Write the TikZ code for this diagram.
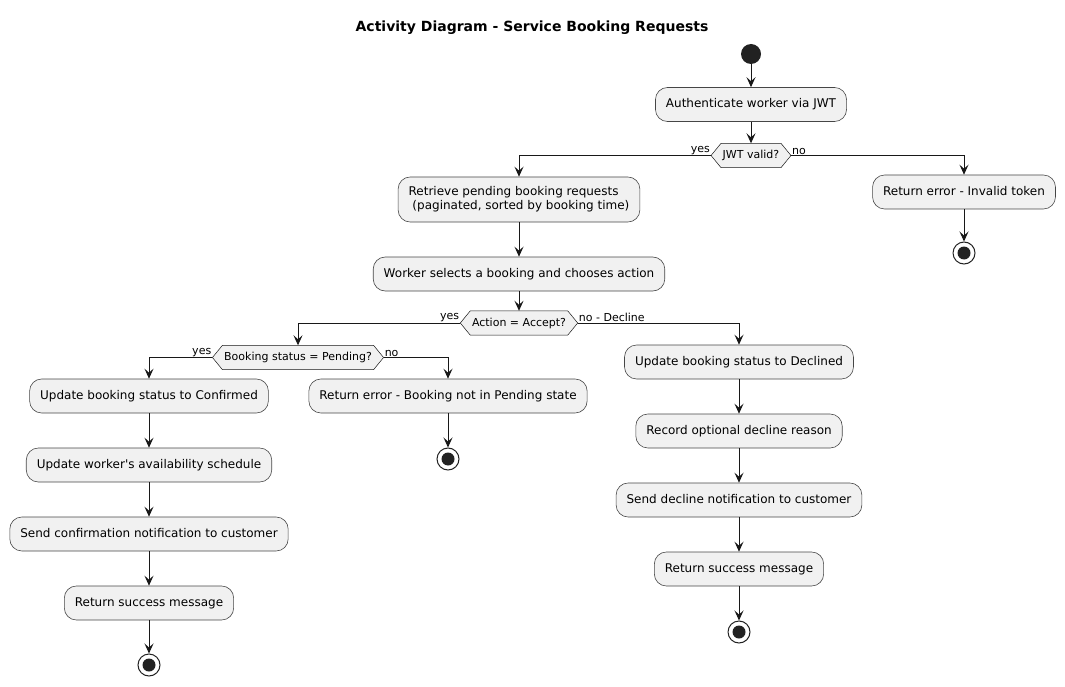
\documentclass[tikz,border=0pt]{standalone}
\usepackage{fontspec}
\setmainfont{DejaVu Sans}
\usetikzlibrary{arrows.meta,backgrounds}
\definecolor{boxfill}{HTML}{F1F1F1}
\definecolor{lineclr}{HTML}{181818}
\definecolor{dotclr}{HTML}{222222}
\newcommand\hexdraw[1]{\draw[draw=lineclr, line width=0.5pt, fill=boxfill] (#1.west) -- ([xshift=10pt]#1.north west) -- ([xshift=-10pt]#1.north east) -- (#1.east) -- ([xshift=-10pt]#1.south east) -- ([xshift=10pt]#1.south west) -- cycle;}
\begin{document}
\begin{tikzpicture}[x=1pt,y=-1pt,
  act/.style={rectangle, rounded corners=12pt, draw=lineclr!80, line width=0.6pt, fill=boxfill, minimum height=34pt, inner xsep=10.5pt, inner ysep=3pt, text height=9pt, text depth=2pt, font=\fontsize{12}{14}\selectfont, text=black},
  dec/.style={rectangle, minimum height=24pt, inner xsep=11.5pt, inner ysep=0pt, font=\fontsize{11}{13}\selectfont},
  lbl/.style={font=\fontsize{11}{13}\selectfont, inner sep=1pt},
  arr/.style={draw=lineclr, line width=1pt, -{Stealth[length=10pt,width=9pt,inset=4pt]}},
  endnode/.style={circle, draw=dotclr, line width=1pt, fill=white, minimum size=22pt, inner sep=0pt},
  startnode/.style={circle, fill=dotclr, minimum size=20pt, inner sep=0pt}]
\useasboundingbox (0,0) rectangle (1065,687);
\node[font=\fontsize{14}{16}\selectfont\bfseries] (title) at (532,28) {Activity Diagram - Service Booking Requests};

\node[startnode] (start) at (751,54) {};
\node[act] (a1) at (751,104.5) {Authenticate worker via JWT};
\node[dec] (d1) at (751,155.5) {JWT valid?};
\node[act, minimum height=45pt, align=left, text height=, text depth=] (b1) at (519,199.5) {Retrieve pending booking requests\\\hspace{0.32em}(paginated, sorted by booking time)};
\node[act] (e1) at (964,192) {Return error - Invalid token};
\node[endnode] (end1) at (964,253) {};
\node[act] (b2) at (519,274) {Worker selects a booking and chooses action};
\node[dec] (d2) at (519,323) {Action = Accept?};
\node[dec] (d3) at (298,357.5) {Booking status = Pending?};
\node[act] (c1) at (149,396) {Update booking status to Confirmed};
\node[act] (x1) at (448,396) {Return error - Booking not in Pending state};
\node[endnode] (end2) at (448,459) {};
\node[act] (c2) at (149,465) {Update worker\textquotesingle s availability schedule};
\node[act] (c3) at (149,534) {Send confirmation notification to customer};
\node[act] (c4) at (149,603) {Return success message};
\node[endnode] (end3) at (149,665) {};
\node[act] (r1) at (739,362) {Update booking status to Declined};
\node[act] (r2) at (739,431) {Record optional decline reason};
\node[act] (r3) at (739,500) {Send decline notification to customer};
\node[act] (r4) at (739,569) {Return success message};
\node[endnode] (end4) at (739,632) {};

\foreach \e in {end1,end2,end3,end4} \fill[dotclr] (\e) circle (6.5pt);

\begin{scope}[on background layer]
\hexdraw{d1}
\hexdraw{d2}
\hexdraw{d3}
\end{scope}

\node[lbl, anchor=south east] (l1) at (d1.west) {yes};
\node[lbl, anchor=south west] (l2) at (d1.east) {no};
\node[lbl, anchor=south east] (l3) at (d2.west) {yes};
\node[lbl, anchor=south west] (l4) at (d2.east) {no - Decline};
\node[lbl, anchor=south east] (l5) at (d3.west) {yes};
\node[lbl, anchor=south west] (l6) at (d3.east) {no};

\draw[arr] (start) -- (a1);
\draw[arr] (a1) -- (d1);
\draw[arr] (d1.west) -| (b1.north);
\draw[arr] (d1.east) -| (e1.north);
\draw[arr] (e1) -- (end1);
\draw[arr] (b1) -- (b2);
\draw[arr] (b2) -- (d2);
\draw[arr] (d2.west) -| (d3.north);
\draw[arr] (d2.east) -| (r1.north);
\draw[arr] (d3.west) -| (c1.north);
\draw[arr] (d3.east) -| (x1.north);
\draw[arr] (x1) -- (end2);
\draw[arr] (c1) -- (c2);
\draw[arr] (c2) -- (c3);
\draw[arr] (c3) -- (c4);
\draw[arr] (c4) -- (end3);
\draw[arr] (r1) -- (r2);
\draw[arr] (r2) -- (r3);
\draw[arr] (r3) -- (r4);
\draw[arr] (r4) -- (end4);
\end{tikzpicture}
\end{document}
